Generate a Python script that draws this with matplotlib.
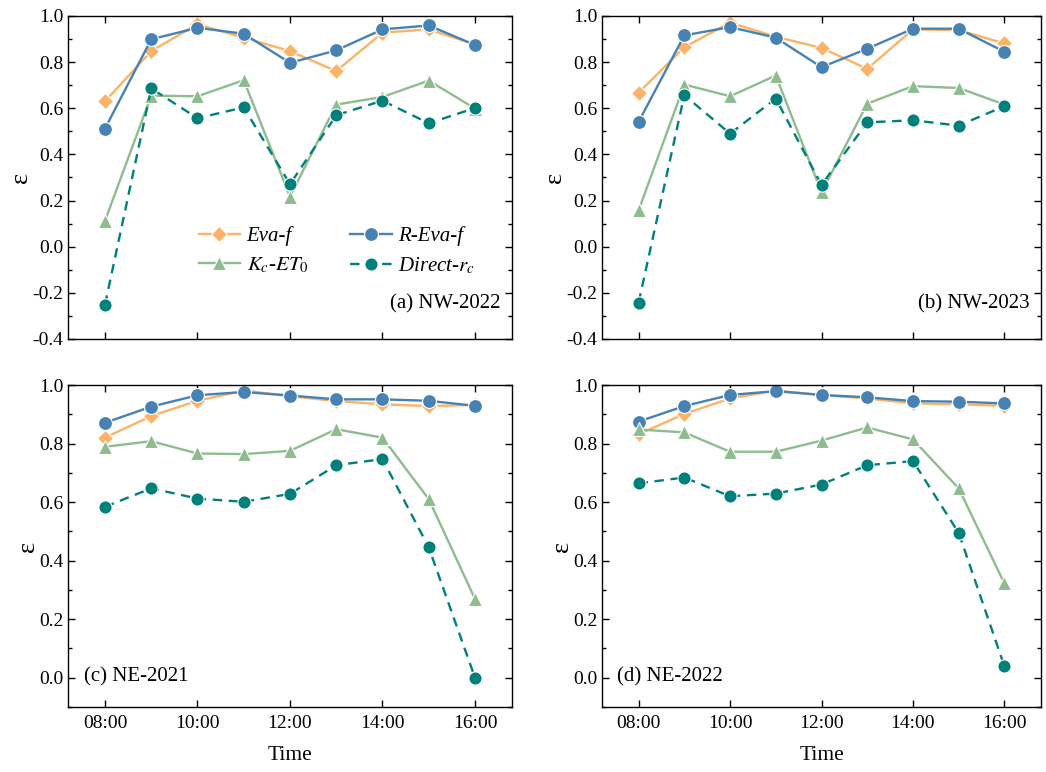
import matplotlib
matplotlib.use("Agg")
import matplotlib.pyplot as plt
from matplotlib.ticker import MultipleLocator

plt.rcParams['font.family'] = ['Liberation Serif', 'DejaVu Serif']
plt.rcParams['mathtext.fontset'] = 'stix'

hours = [8, 9, 10, 11, 12, 13, 14, 15, 16]
tick_hours = [8, 10, 12, 14, 16]
tick_labels = ["08:00", "10:00", "12:00", "14:00", "16:00"]

series_names = ["Eva-f", "R-Eva-f", r"$K_c$-$ET_{\mathit{0}}$", r"Direct-$r_c$"]

# Panel (a) NW-2022
a_eva = [0.63, 0.848, 0.964, 0.906, 0.848, 0.761, 0.928, 0.942, 0.877]
a_reva = [0.512, 0.899, 0.949, 0.923, 0.797, 0.851, 0.942, 0.959, 0.874]
a_kc = [0.112, 0.655, 0.652, 0.722, 0.217, 0.616, 0.649, 0.720, 0.599]
a_dir = [-0.251, 0.686, 0.557, 0.604, 0.271, 0.570, 0.633, 0.535, 0.601]

# Panel (b) NW-2023
b_eva = [0.667, 0.865, 0.971, 0.910, 0.862, 0.771, 0.942, 0.939, 0.881]
b_reva = [0.541, 0.916, 0.952, 0.906, 0.778, 0.858, 0.945, 0.945, 0.845]
b_kc = [0.157, 0.703, 0.652, 0.742, 0.236, 0.620, 0.696, 0.688, 0.616]
b_dir = [-0.242, 0.657, 0.490, 0.642, 0.268, 0.539, 0.548, 0.525, 0.609]

# Panel (c) NE-2021
c_eva = [0.820, 0.894, 0.946, 0.981, 0.962, 0.945, 0.934, 0.928, 0.932]
c_reva = [0.871, 0.926, 0.965, 0.976, 0.964, 0.951, 0.951, 0.946, 0.929]
c_kc = [0.789, 0.808, 0.766, 0.764, 0.775, 0.849, 0.820, 0.610, 0.269]
c_dir = [0.584, 0.647, 0.612, 0.601, 0.628, 0.726, 0.747, 0.445, 0.0]

# Panel (d) NE-2022
d_eva = [0.832, 0.901, 0.954, 0.981, 0.966, 0.954, 0.937, 0.934, 0.929]
d_reva = [0.875, 0.928, 0.966, 0.979, 0.966, 0.958, 0.945, 0.943, 0.937]
d_kc = [0.848, 0.838, 0.772, 0.772, 0.810, 0.855, 0.814, 0.647, 0.322]
d_dir = [0.664, 0.684, 0.620, 0.629, 0.660, 0.726, 0.740, 0.495, 0.039]

panel_titles = ["(a) NW-2022", "(b) NW-2023", "(c) NE-2021", "(d) NE-2022"]

panels = [
    (a_eva, a_reva, a_kc, a_dir),
    (b_eva, b_reva, b_kc, b_dir),
    (c_eva, c_reva, c_kc, c_dir),
    (d_eva, d_reva, d_kc, d_dir),
]

colors = ["#FDB366", "#4682B4", "#8FBC8F", "#00807A"]
markers = ["D", "o", "^", "o"]
msizes = [8.5, 10, 10.5, 9.5]
styles = ["-", "-", "-", (0, (4, 2.8))]

fig = plt.figure(figsize=(10.46, 7.72), dpi=100)
W, H = 1046, 772
boxes = [
    (68, 16, 512, 339),
    (602, 16, 1041, 339),
    (68, 385, 512, 707),
    (602, 385, 1041, 707),
]

for i, (box, data) in enumerate(zip(boxes, panels)):
    l, t, r, b = box
    ax = fig.add_axes([l / W, 1 - b / H, (r - l) / W, (b - t) / H])
    lines = []
    for j, vals in enumerate(data):
        ln, = ax.plot(hours, vals, color=colors[j], marker=markers[j], markersize=msizes[j],
                      markeredgecolor="white", markeredgewidth=0.8, linewidth=1.7,
                      linestyle=styles[j], label=series_names[j])
        lines.append(ln)
    ax.set_xlim(7.2, 16.8)
    if i < 2:
        ax.set_ylim(-0.4, 1.0)
        ax.set_yticks([-0.4, -0.2, 0.0, 0.2, 0.4, 0.6, 0.8, 1.0])
        ax.set_yticklabels(["-0.4", "-0.2", "0.0", "0.2", "0.4", "0.6", "0.8", "1.0"])
        ax.set_xticks(tick_hours)
        ax.set_xticklabels([])
        ax.text(0.975, 0.11, panel_titles[i], transform=ax.transAxes,
                ha="right", va="center", fontsize=15)
    else:
        ax.set_ylim(-0.1, 1.0)
        ax.set_yticks([0.0, 0.2, 0.4, 0.6, 0.8, 1.0])
        ax.set_yticklabels(["0.0", "0.2", "0.4", "0.6", "0.8", "1.0"])
        ax.set_xticks(tick_hours)
        ax.set_xticklabels(tick_labels)
        ax.set_xlabel("Time", fontsize=15.5, labelpad=10)
        ax.text(0.035, 0.095, panel_titles[i], transform=ax.transAxes,
                ha="left", va="center", fontsize=15)
    ax.yaxis.set_minor_locator(MultipleLocator(0.1))
    ax.tick_params(which="both", direction="in", top=True, right=True, labelsize=14)
    ax.tick_params(which="major", length=5, width=1)
    ax.tick_params(which="minor", length=3, width=1)
    ax.tick_params(axis="x", which="minor", top=False, bottom=False)
    ax.tick_params(axis="x", pad=6)
    ax.set_ylabel("ε", fontsize=19, labelpad=0)
    for s in ax.spines.values():
        s.set_linewidth(1.0)
    if i == 0:
        order = [0, 2, 1, 3]
        ax.legend([lines[k] for k in order], [series_names[k] for k in order],
                  loc="center", bbox_to_anchor=(0.605, 0.271), ncol=2,
                  frameon=False, prop={"style": "italic", "size": 15},
                  handlelength=2.0, columnspacing=2.0, handletextpad=0.3,
                  labelspacing=0.45)

fig.savefig("out.png", dpi=100)
